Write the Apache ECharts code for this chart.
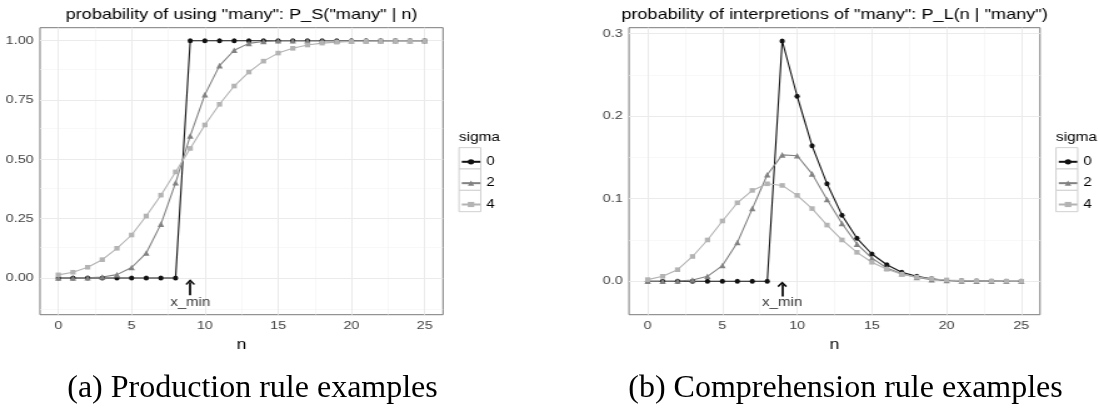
<!DOCTYPE html>
<html>
<head>
<meta charset="utf-8">
<title>many</title>
<script src="https://cdn.jsdelivr.net/npm/echarts@6/dist/echarts.min.js"></script>
<style>
  html, body { margin: 0; padding: 0; background: #fff; overflow: hidden; }
  #wrap { position: relative; width: 1099px; height: 412px; }
  /* the plots in the reference are stretched sideways, so draw them narrower and widen them */
  #plots { position: absolute; left: 0; top: 0; width: 879px; height: 412px; transform: scaleX(1.2503); transform-origin: 0 0; }
  #captions { position: absolute; left: 0; top: 0; width: 1099px; height: 412px; }
</style>
</head>
<body>
<div id="wrap">
  <div id="plots"></div>
  <div id="captions"></div>
</div>
<script>
'use strict';

// data
var n = [0, 1, 2, 3, 4, 5, 6, 7, 8, 9, 10, 11, 12, 13, 14, 15, 16, 17, 18, 19, 20, 21, 22, 23, 24, 25];
var sigmas = ['0', '2', '4'];

var prodSigma0 = [0, 0, 0, 0, 0, 0, 0, 0, 0, 1, 1, 1, 1, 1, 1, 1, 1, 1, 1, 1, 1, 1, 1, 1, 1, 1];
var prodSigma2 = [0, 0, 0.001, 0.004, 0.014, 0.044, 0.105, 0.227, 0.401, 0.599, 0.773, 0.895, 0.960, 0.989, 0.997,
                  1, 1, 1, 1, 1, 1, 1, 1, 1, 1, 1];
var prodSigma4 = [0.013, 0.024, 0.045, 0.077, 0.125, 0.181, 0.261, 0.349, 0.447, 0.546, 0.645, 0.732, 0.809, 0.868,
                  0.914, 0.948, 0.968, 0.982, 0.990, 0.994, 0.997, 0.998, 0.999, 1, 1, 1];

var compSigma0 = [0, 0, 0, 0, 0, 0, 0, 0, 0, 0.291, 0.224, 0.164, 0.118, 0.080, 0.052, 0.033, 0.020, 0.011, 0.006,
                  0.003, 0.001, 0.0005, 0.0002, 0.0001, 0, 0];
var compSigma2 = [0, 0, 0.0003, 0.0016, 0.006, 0.019, 0.047, 0.088, 0.129, 0.153, 0.152, 0.130, 0.099, 0.070, 0.045,
                  0.028, 0.016, 0.009, 0.0045, 0.002, 0.001, 0.0004, 0.0002, 0.0001, 0, 0];
var compSigma4 = [0.002, 0.006, 0.014, 0.030, 0.050, 0.073, 0.095, 0.110, 0.118, 0.116, 0.104, 0.088, 0.068, 0.050,
                  0.035, 0.023, 0.0145, 0.0085, 0.005, 0.003, 0.0016, 0.0008, 0.0004, 0.0002, 0.0001, 0];

// axes and grid lines
var xRange = [-1.25, 26.25];
var xMajor = [0, 5, 10, 15, 20, 25];
var xMinor = [2.5, 7.5, 12.5, 17.5, 22.5];
var prodRange = [-0.155, 1.055];
var prodYMajor = [0, 0.25, 0.5, 0.75, 1];
var prodYMinor = [-0.125, 0.125, 0.375, 0.625, 0.875];
var compRange = [-0.0405, 0.307];
var compYMajor = [0, 0.1, 0.2, 0.3];
var compYMinor = [0.05, 0.15, 0.25];

// x_min annotation: arrow [from, to] and text position
var xMin = 9;
var prodArrow = [-0.073, -0.018];
var prodLabelY = -0.105;
var compArrow = [-0.0184, -0.0037];
var compLabelY = -0.0264;

var titles = ['probability of using "many": P_S("many" | n)', 'probability of interpretions of "many": P_L(n | "many")'];
var captions = ['(a) Production rule examples', '(b) Comprehension rule examples'];


var S = 1099 / 879;
function nx(v) { return v / S; }

var SANS = "'Liberation Sans', Arial, Helvetica, sans-serif";
var colors = ['#111111', '#828282', '#b3b3b3'];
var symbols = ['circle', 'triangle', 'rect'];
var symbolSizes = [[4.2, 5], [5.2, 5.6], [4.2, 4.6]];
var chevron = 'path://M5,0L10,5.4L8.7,6.6L5,2.6L1.3,6.6L0,5.4Z';

var panels = [
  { values: [prodSigma0, prodSigma2, prodSigma4], range: prodRange, major: prodYMajor, minor: prodYMinor, digits: 2,
    arrow: prodArrow, labelY: prodLabelY, box: [40, 443], legendX: 459 },
  { values: [compSigma0, compSigma2, compSigma4], range: compRange, major: compYMajor, minor: compYMinor, digits: 1,
    arrow: compArrow, labelY: compLabelY, box: [629, 1040], legendX: 1056 }
];

var PANEL_TOP = 27.7, PANEL_H = 287;
var ROW_Y = [158.3, 179.65, 201], ROW_H = 21.35;

function gridLines(p) {
  var major = { color: '#ebebeb', width: 1, type: 'solid' };
  var minor = { color: '#f3f3f3', width: 0.6, type: 'solid' };
  var d = [];
  xMinor.forEach(function (v) { d.push({ xAxis: v, lineStyle: minor }); });
  p.minor.forEach(function (v) { d.push({ yAxis: v, lineStyle: minor }); });
  xMajor.forEach(function (v) { d.push({ xAxis: v, lineStyle: major }); });
  p.major.forEach(function (v) { d.push({ yAxis: v, lineStyle: major }); });
  return d;
}

var option = {
  backgroundColor: '#fff',
  animation: false,
  title: [],
  legend: [],
  grid: [],
  xAxis: [],
  yAxis: [],
  series: [],
  graphic: []
};

panels.forEach(function (p, i) {
  option.grid.push({
    left: nx(p.box[0]), top: PANEL_TOP, width: nx(p.box[1] - p.box[0]), height: PANEL_H,
    show: true, backgroundColor: '#fff', borderColor: '#7a7a7a', borderWidth: 1
  });
  option.xAxis.push({
    type: 'value', gridIndex: i, min: xRange[0], max: xRange[1],
    axisLine: { show: false }, splitLine: { show: false },
    axisTick: { customValues: xMajor, length: 3, lineStyle: { color: '#333' } },
    axisLabel: { customValues: xMajor, margin: 5, fontSize: 11.5, color: '#444', fontFamily: SANS },
    name: 'n', nameLocation: 'middle', nameGap: 23,
    nameTextStyle: { fontSize: 14, color: '#000', fontFamily: SANS }
  });
  option.yAxis.push({
    type: 'value', gridIndex: i, min: p.range[0], max: p.range[1],
    axisLine: { show: false }, splitLine: { show: false },
    axisTick: { customValues: p.major, length: 3.6, lineStyle: { color: '#333' } },
    axisLabel: {
      customValues: p.major, margin: 5, fontSize: 11.5, color: '#444', fontFamily: SANS,
      formatter: function (v) { return v.toFixed(p.digits); }
    }
  });

  p.values.forEach(function (vals, k) {
    var s = {
      type: 'line', name: sigmas[k], xAxisIndex: i, yAxisIndex: i,
      data: n.map(function (x, j) { return [x, vals[j]]; }),
      symbol: symbols[k], symbolSize: symbolSizes[k], showAllSymbol: true,
      lineStyle: { color: colors[k], width: 1.1 },
      itemStyle: { color: colors[k] },
      emphasis: { disabled: true }
    };
    if (k === 0) {
      s.markLine = { silent: true, z: 1, symbol: ['none', 'none'], label: { show: false },
                     emphasis: { disabled: true }, data: gridLines(p) };
    }
    option.series.push(s);
  });

  // x_min arrow and text
  option.series.push({
    type: 'scatter', xAxisIndex: i, yAxisIndex: i,
    data: [[xMin, p.labelY]], symbolSize: 1, itemStyle: { color: 'transparent' },
    label: { show: true, position: 'inside', formatter: 'x_min', color: '#000', fontSize: 12, fontFamily: SANS },
    emphasis: { disabled: true },
    markLine: {
      silent: true, symbol: ['none', chevron], symbolSize: [nx(9.5), 5.7],
      label: { show: false }, emphasis: { disabled: true },
      lineStyle: { color: '#000', width: 1.7, type: 'solid' },
      data: [[{ coord: [xMin, p.arrow[0]] }, { coord: [xMin, p.arrow[1]] }]]
    }
  });

  option.title.push({
    text: titles[i], left: nx((p.box[0] + p.box[1]) / 2), top: 15, padding: 0,
    textAlign: 'center', textVerticalAlign: 'middle',
    textStyle: { fontSize: 14.5, fontWeight: 'normal', color: '#000', fontFamily: SANS }
  });
  option.title.push({
    text: 'sigma', left: nx(p.legendX), top: 137.7, padding: 0,
    textAlign: 'left', textVerticalAlign: 'middle',
    textStyle: { fontSize: 12.3, fontWeight: 'normal', color: '#000', fontFamily: SANS }
  });

  ROW_Y.forEach(function (y) {
    option.graphic.push({
      type: 'rect', silent: true, z: 0,
      shape: { x: nx(p.legendX), y: y - ROW_H / 2, width: nx(21.7), height: ROW_H },
      style: { fill: '#fff', stroke: '#d0d0d0', lineWidth: 1 }
    });
  });
  option.legend.push({
    data: sigmas, orient: 'vertical', left: nx(p.legendX + 1.5), top: ROW_Y[0] - 3, padding: 0,
    itemWidth: nx(18.5), itemHeight: 6.5, itemGap: ROW_H - 13, selectedMode: false,
    textStyle: { fontSize: 12, lineHeight: 13, color: '#000', fontFamily: SANS }
  });
});

var plots = echarts.init(document.getElementById('plots'));
plots.setOption(option);

var capChart = echarts.init(document.getElementById('captions'));
capChart.setOption({
  backgroundColor: 'transparent',
  animation: false,
  title: captions.map(function (c, i) {
    return {
      text: c, left: [252.5, 845.5][i], top: 389, padding: 0,
      textAlign: 'center', textVerticalAlign: 'middle',
      textStyle: { fontSize: 32, fontWeight: 'normal', color: '#000', fontFamily: "'Liberation Serif', 'Times New Roman', serif" }
    };
  })
});
</script>
</body>
</html>
